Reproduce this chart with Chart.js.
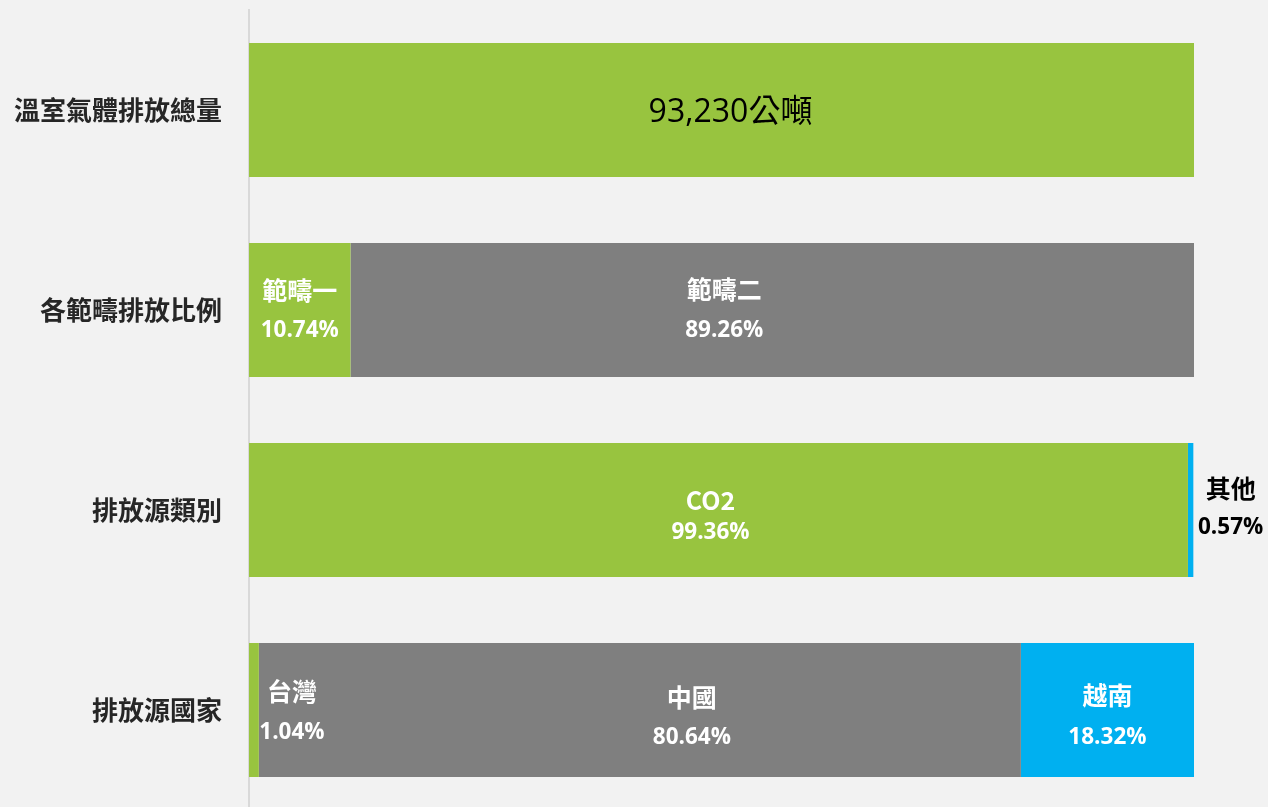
<!DOCTYPE html>
<html>
<head>
<meta charset="utf-8">
<script src="https://cdn.jsdelivr.net/npm/chart.js@4/dist/chart.umd.min.js"></script>
<style>
  html, body { margin: 0; padding: 0; background: #f2f2f2; overflow: hidden; }
  #wrap { width: 1268px; height: 810px; position: relative; }
</style>
</head>
<body>
<div id="wrap"><canvas id="c"></canvas></div>
<script>
// ---- data ----
const categories = ['溫室氣體排放總量', '各範疇排放比例', '排放源類別', '排放源國家'];
const totalEmission = 93230;
const totalUnit = '公噸';
const seriesGreen = [100, 10.74, 99.36, 1.04];
const seriesGray  = [0, 89.26, 0, 80.64];
const seriesBlue  = [0, 0, 0.57, 18.32];
const namesGreen = [null, '範疇一', 'CO2', '台灣'];
const namesGray  = [null, '範疇二', null, '中國'];
const namesBlue  = [null, null, '其他', '越南'];

// ---- label styling (offsets from segment centre, colours) ----
const labelStyle = {
  green: { dx: [9, 0, -8, 38], dyName: [0, -20, -10, -19], dyPct: [0, 18, 20, 20],
           color: ['#000000', '#ffffff', '#ffffff', '#ffffff'] },
  gray:  { dx: [0, -48, 0, 52], dyName: [0, -21, 0, -13], dyPct: [0, 18, 0, 25],
           color: ['#ffffff', '#ffffff', '#ffffff', '#ffffff'] },
  blue:  { dx: [0, 0, 40, 0], dyName: [0, 0, -22, -15], dyPct: [0, 0, 15, 25],
           color: ['#ffffff', '#ffffff', '#000000', '#ffffff'] }
};

function drawInkCentered(ctx, text, x, y) {
  const m = ctx.measureText(text);
  const a = m.actualBoundingBoxAscent, d = m.actualBoundingBoxDescent;
  ctx.fillText(text, x, y + (a - d) / 2);
}

const segLabels = {
  id: 'segLabels',
  afterDatasetsDraw(chart) {
    const ctx = chart.ctx;
    ctx.save();
    ctx.textAlign = 'center';
    ctx.textBaseline = 'alphabetic';
    chart.data.datasets.forEach((ds, di) => {
      const meta = chart.getDatasetMeta(di);
      const st = labelStyle[ds.key];
      meta.data.forEach((el, i) => {
        const v = ds.data[i];
        if (!v) return;
        const cx = (el.x + el.base) / 2 + st.dx[i];
        const cy = el.y;
        ctx.fillStyle = st.color[i];
        if (i === 0) {
          ctx.font = '32px "Open Sans", "Noto Sans CJK TC"';
          const t = totalEmission.toLocaleString('en-US');
          ctx.fillText(t + totalUnit, cx, cy + 11.5);
          return;
        }
        const name = ds.names[i];
        if (!name) return;
        ctx.font = 'bold 25px "Noto Sans CJK TC"';
        drawInkCentered(ctx, name, cx, cy + st.dyName[i]);
        ctx.font = 'bold 22.5px "Open Sans", "Noto Sans CJK TC"';
        drawInkCentered(ctx, v.toFixed(2) + '%', cx, cy + st.dyPct[i]);
      });
    });
    ctx.restore();
  }
};

new Chart(document.getElementById('c'), {
  type: 'bar',
  data: {
    labels: categories,
    datasets: [
      { key: 'green', names: namesGreen, data: seriesGreen, backgroundColor: '#98c43f' },
      { key: 'gray',  names: namesGray,  data: seriesGray,  backgroundColor: '#7f7f7f' },
      { key: 'blue',  names: namesBlue,  data: seriesBlue,  backgroundColor: '#00b0f0' }
    ]
  },
  options: {
    indexAxis: 'y',
    responsive: true,
    maintainAspectRatio: false,
    animation: false,
    layout: { padding: { top: 10, right: 74, bottom: 0, left: 0 } },
    datasets: { bar: { categoryPercentage: 1, barPercentage: 0.67, borderWidth: 0 } },
    plugins: { legend: { display: false }, tooltip: { enabled: false } },
    scales: {
      x: { stacked: true, min: 0, max: 100, display: false },
      y: {
        stacked: true,
        grid: { display: false, drawTicks: false },
        border: { display: true, color: '#d9d9d9', width: 2 },
        ticks: {
          padding: 27,
          color: '#262626',
          font: { family: '"Noto Sans CJK TC"', size: 26, weight: 'bold' }
        },
        afterFit(scale) {
          scale.width = 249;
          scale.paddingTop = 0;
          scale.paddingBottom = 0;
        }
      }
    }
  },
  plugins: [segLabels]
});
</script>
</body>
</html>
